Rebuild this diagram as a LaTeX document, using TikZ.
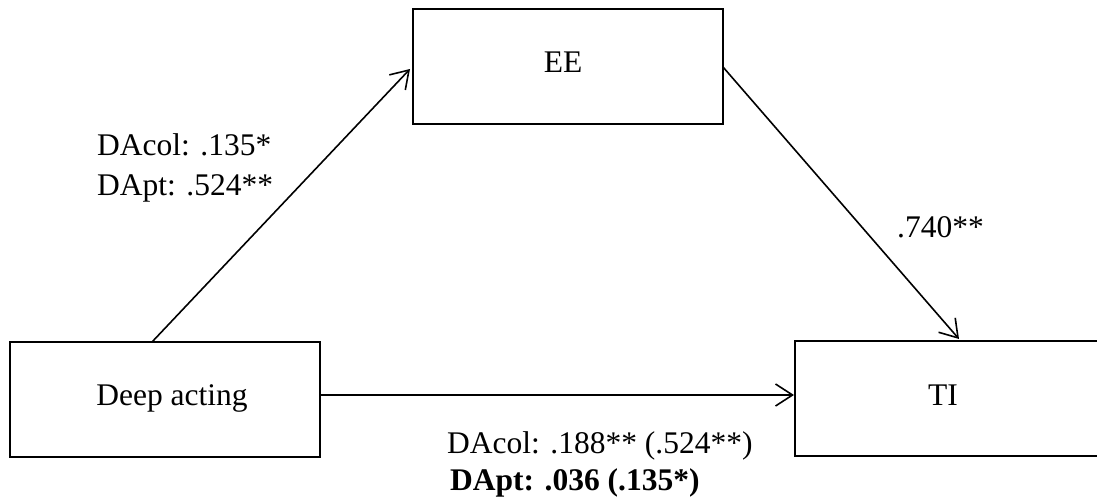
\documentclass[tikz,border=0pt]{standalone}
\usepackage{fontspec}
\setmainfont{Liberation Serif}
\usetikzlibrary{arrows.meta}
\begin{document}
\begin{tikzpicture}[x=1pt,y=-1pt,
  box/.style={draw=black,line width=2pt,rectangle,inner sep=0pt,minimum width=310pt,minimum height=115pt},
  txt/.style={font=\fontsize{31.5}{36}\selectfont,inner sep=0pt},
  conn/.style={line width=1.6pt,-{Straight Barb[length=17pt,width=22pt,line width=1.6pt]}}]
\useasboundingbox (0,0) rectangle (1097,498);
\node[box] (EE) at (568,66.5) {};
\node[box] (DA) at (164.5,399) {};
\node[box] (TI) at (950,398.5) {};
\node[txt] (EEt) at (563,62) {EE};
\node[txt] (DAt) at (172,398) {Deep acting};
\node[txt] (TIt) at (943,395) {TI};
\coordinate (s1) at (152,342);
\coordinate (e1) at (410,69);
\coordinate (s2) at (723,67);
\coordinate (e2) at (959,339);
\draw[conn] (s1) -- (e1);
\draw[conn] (s2) -- (e2);
\draw[conn] (DA.east |- 0,395) -- (TI.west |- 0,395);
\node[txt,anchor=base west] (l1) at (97,155) {DAcol: .135*};
\node[txt,anchor=base west] (l2) at (97,195) {DApt: .524**};
\node[txt,anchor=base west] (l3) at (897,237) {.740**};
\node[txt,anchor=base west] (l4) at (447,453) {DAcol: .188** (.524**)};
\node[txt,anchor=base west,font=\fontsize{31.5}{36}\selectfont\bfseries] (l5) at (450,490) {DApt: .036 (.135*)};
\end{tikzpicture}
\end{document}
